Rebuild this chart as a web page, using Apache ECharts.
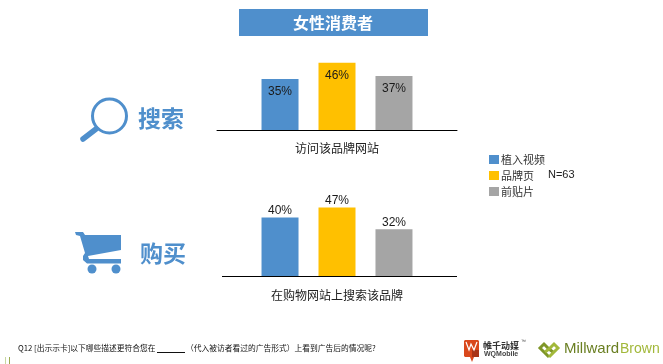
<!DOCTYPE html>
<html>
<head>
<meta charset="utf-8">
<script src="https://cdn.jsdelivr.net/npm/echarts@6/dist/echarts.min.js"></script>
<style>
html,body{margin:0;padding:0;background:#fff}
#main{width:663px;height:364px}
</style>
</head>
<body>
<div id="main"></div>
<script>
var seriesNames = ['植入视频', '品牌页', '前贴片'];
var colors = ['#4f8fcc', '#ffc000', '#a5a5a5'];
var searchCategory = ['访问该品牌网站'];
var buyCategory = ['在购物网站上搜索该品牌'];
var searchValues = [35, 46, 37];
var buyValues = [40, 47, 32];
var cjk = '"Noto Sans CJK SC"';
var blue = '#4f8fcc';

var chart = echarts.init(document.getElementById('main'));

function makeSeries(values, axisIndex, labelPos) {
	return values.map(function (v, i) {
		return {
			name: seriesNames[i],
			type: 'bar',
			xAxisIndex: axisIndex,
			yAxisIndex: axisIndex,
			data: [v],
			barWidth: 37,
			barGap: '54%',
			itemStyle: {color: colors[i]},
			label: {
				show: true,
				position: labelPos,
				distance: labelPos == 'top' ? 1 : 7,
				formatter: '{c}%',
				fontFamily: 'Liberation Sans',
				fontSize: 12,
				color: '#1a1a1a'
			}
		};
	});
}

function xAxisFor(cat, gridIndex, showLine, margin) {
	return {
		type: 'category',
		gridIndex: gridIndex,
		data: cat,
		axisLine: {show: showLine, lineStyle: {color: '#000', width: 1}},
		axisTick: {show: false},
		axisLabel: {fontFamily: cjk, fontSize: 12, color: '#222', margin: margin}
	};
}

function yAxisFor(gridIndex) {
	return {type: 'value', gridIndex: gridIndex, min: 0, max: 50, show: false};
}

var option = {
	animation: false,
	backgroundColor: '#fff',
	grid: [
		{left: 217, width: 240, top: 57, height: 73},
		{left: 222, width: 230, top: 203, height: 73}
	],
	xAxis: [xAxisFor(searchCategory, 0, true, 12), xAxisFor(buyCategory, 1, false, 13)],
	yAxis: [yAxisFor(0), yAxisFor(1)],
	legend: {
		orient: 'vertical',
		left: 489,
		top: 154,
		padding: 0,
		itemWidth: 10,
		itemHeight: 9,
		itemGap: 5,
		icon: 'rect',
		data: seriesNames,
		selectedMode: false,
		textStyle: {fontFamily: cjk, fontSize: 11, color: '#333', padding: [0, 0, 0, -3]}
	},
	series: makeSeries(searchValues, 0, 'insideTop').concat(makeSeries(buyValues, 1, 'top')),
	graphic: [
		// 标题
		{type: 'rect', shape: {x: 239, y: 9, width: 189, height: 27}, style: {fill: blue}},
		{type: 'text', x: 333, y: 23, style: {text: '女性消费者', fontFamily: cjk, fontSize: 16, fontWeight: 'bold', fill: '#fff', align: 'center', verticalAlign: 'middle'}},
		{type: 'text', x: 548, y: 175, style: {text: 'N=63', fontFamily: 'Liberation Sans', fontSize: 11, fill: '#222', align: 'left', verticalAlign: 'middle'}},
		// 下图的轴线
		{type: 'line', shape: {x1: 222, y1: 276.5, x2: 457, y2: 276.5}, style: {stroke: '#000', lineWidth: 1}},
		// 放大镜
		{type: 'circle', shape: {cx: 109.5, cy: 116, r: 17}, style: {fill: 'none', stroke: blue, lineWidth: 3}},
		{type: 'line', shape: {x1: 96, y1: 129, x2: 83, y2: 139}, style: {stroke: blue, lineWidth: 5.5, lineCap: 'round'}},
		{type: 'text', x: 161, y: 118, style: {text: '搜索', fontFamily: cjk, fontSize: 23, fontWeight: 'bold', fill: blue, align: 'center', verticalAlign: 'middle'}},
		// 购物车
		{type: 'polygon', shape: {points: [[75, 232], [83, 232], [85, 235], [121, 235], [121, 250], [88, 256], [89, 259], [121, 259], [121, 263.5], [87, 263.5], [83, 260], [83, 256], [85, 253], [80, 236], [76, 235]]}, style: {fill: blue}},
		{type: 'circle', shape: {cx: 92, cy: 269, r: 4.5}, style: {fill: blue}},
		{type: 'circle', shape: {cx: 116, cy: 269, r: 4.5}, style: {fill: blue}},
		{type: 'text', x: 163, y: 253, style: {text: '购买', fontFamily: cjk, fontSize: 23, fontWeight: 'bold', fill: blue, align: 'center', verticalAlign: 'middle'}},
		// 脚注
		{type: 'text', x: 18, y: 348, style: {text: 'Q12 [出示示卡]以下哪些描述更符合您在', fontFamily: cjk, fontSize: 7.75, fill: '#111', align: 'left', verticalAlign: 'middle'}},
		{type: 'line', shape: {x1: 157, y1: 352.5, x2: 185, y2: 352.5}, style: {stroke: '#111', lineWidth: 1}},
		{type: 'text', x: 186, y: 348, style: {text: '（代入被访者看过的广告形式）上看到广告后的情况呢?', fontFamily: cjk, fontSize: 7.75, fill: '#111', align: 'left', verticalAlign: 'middle'}},
		{type: 'line', shape: {x1: 5.5, y1: 357, x2: 5.5, y2: 364}, style: {stroke: '#c8d8a0', lineWidth: 1}},
		{type: 'line', shape: {x1: 9.5, y1: 357, x2: 9.5, y2: 364}, style: {stroke: '#9aaa50', lineWidth: 1}},
		// 标志
		{type: 'polygon', shape: {points: [[465, 340], [478, 340], [479, 341], [479, 357], [474, 357], [472, 362], [470, 357], [465, 357], [464, 356], [464, 341]]}, style: {fill: '#d9481c'}},
		{type: 'rect', shape: {x: 472, y: 350, width: 7, height: 7}, style: {fill: '#a83418'}},
		{type: 'polyline', shape: {points: [[466, 342], [469, 350], [471, 344], [474, 350], [477, 342]]}, style: {fill: 'none', stroke: '#fff', lineWidth: 1.2}},
		{type: 'text', x: 483, y: 346, style: {text: '帷千动媒', fontFamily: cjk, fontSize: 9, fontWeight: 'bold', fill: '#333', align: 'left', verticalAlign: 'middle'}},
		{type: 'text', x: 521, y: 342, style: {text: '™', fontFamily: 'Liberation Sans', fontSize: 5, fill: '#444', align: 'left', verticalAlign: 'middle'}},
		{type: 'text', x: 484, y: 354, style: {text: 'WQMobile', fontFamily: 'Liberation Sans', fontSize: 7, fontWeight: 'bold', fill: '#444', align: 'left', verticalAlign: 'middle'}},
		{type: 'text', x: 564, y: 349, style: {text: 'Millward', fontFamily: 'Liberation Sans', fontSize: 15, fill: '#6a7f22', align: 'left', verticalAlign: 'middle'}},
		{type: 'text', x: 620, y: 349, style: {text: 'Brown', fontFamily: 'Liberation Sans', fontSize: 14, fill: '#a2b83a', align: 'left', verticalAlign: 'middle'}},
		{type: 'polyline', shape: {points: [[549, 357], [540, 348], [544, 344], [549, 349], [553, 352]]}, style: {fill: 'none', stroke: '#7f9628', lineWidth: 3}},
		{type: 'polyline', shape: {points: [[549, 357], [558, 348], [554, 344], [549, 349], [545, 352]]}, style: {fill: 'none', stroke: '#a2b83a', lineWidth: 3}}
	]
};
chart.setOption(option);
</script>
</body>
</html>
